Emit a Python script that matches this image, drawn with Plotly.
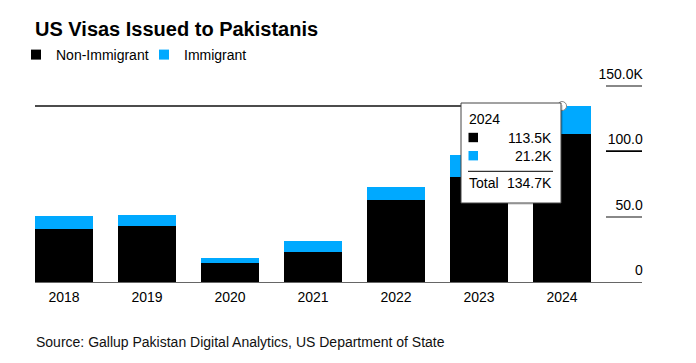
import plotly.graph_objects as go

years = ["2018", "2019", "2020", "2021", "2022", "2023", "2024"]
non_immigrant = [40.3, 42.6, 14.5, 23.0, 62.5, 80.3, 113.5]
immigrant = [10.5, 9.0, 3.9, 8.7, 10.5, 16.9, 21.2]
y_tickvals = [0, 50, 100, 150]
y_ticktext = ["0", "50.0", "100.0", "150.0K"]

BLACK = "#000000"
BLUE = "#00A9FF"
FONT = "Liberation Sans, Arial, Helvetica, sans-serif"

W, H = 696, 363
L, R, T, B = 35, 54, 85, 81
PW, PH = W - L - R, H - T - B


def px2x(px):
    return (px - L) / PW


def py2y(py):
    return (H - B - py) / PH


fig = go.Figure()
fig.add_trace(go.Bar(x=years, y=non_immigrant, name="Non-Immigrant",
                     marker=dict(color=BLACK, line=dict(width=0)), showlegend=False))
fig.add_trace(go.Bar(x=years, y=immigrant, name="Immigrant",
                     marker=dict(color=BLUE, line=dict(width=0)), showlegend=False))
# legend proxies
fig.add_trace(go.Scatter(x=[None], y=[None], mode="markers", name="Non-Immigrant",
                         marker=dict(symbol="square", size=10, color=BLACK)))
fig.add_trace(go.Scatter(x=[None], y=[None], mode="markers", name="Immigrant",
                         marker=dict(symbol="square", size=10, color=BLUE)))

last = len(years) - 1
total_last = round(non_immigrant[last] + immigrant[last], 1)

# hover point marker
fig.add_trace(go.Scatter(x=[years[last]], y=[total_last], mode="markers", showlegend=False,
                         marker=dict(size=9, color="white", line=dict(color="#888", width=1)),
                         hoverinfo="skip", cliponaxis=False))

shapes = []
# crosshair line
shapes.append(dict(type="line", xref="x", yref="y", x0=-0.35, x1=last, y0=total_last, y1=total_last,
                   line=dict(color="#111", width=1.5), layer="below"))
# dark tick at 100
shapes.append(dict(type="line", xref="paper", yref="y", x0=px2x(606), x1=1, y0=100, y1=100,
                   line=dict(color="#000", width=1.5)))
# tooltip box
shapes.append(dict(type="rect", xref="paper", yref="paper", x0=px2x(463), x1=px2x(563),
                   y0=py2y(205), y1=py2y(105), fillcolor="rgba(0,0,0,0.12)", line=dict(width=0)))
shapes.append(dict(type="rect", xref="paper", yref="paper", x0=px2x(461), x1=px2x(561),
                   y0=py2y(203), y1=py2y(103), fillcolor="white", line=dict(color="#444", width=1)))
# color squares
for cy, col in [(137.5, BLACK), (155.7, BLUE)]:
    shapes.append(dict(type="rect", xref="paper", yref="paper", x0=px2x(468.5), x1=px2x(478),
                       y0=py2y(cy + 4.7), y1=py2y(cy - 4.7), fillcolor=col, line=dict(width=0)))
# divider
shapes.append(dict(type="line", xref="paper", yref="paper", x0=px2x(468), x1=px2x(553),
                   y0=py2y(171.3), y1=py2y(171.3), line=dict(color="#000", width=1)))

annotations = []
tf = dict(family=FONT, size=14, color="#000")
annotations.append(dict(text=years[last], xref="paper", yref="paper", x=px2x(467), y=py2y(118.5),
                        xanchor="left", yanchor="middle", showarrow=False, font=tf))
annotations.append(dict(text=f"{non_immigrant[last]:.1f}K", xref="paper", yref="paper", x=px2x(554),
                        y=py2y(137.5), xanchor="right", yanchor="middle", showarrow=False, font=tf))
annotations.append(dict(text=f"{immigrant[last]:.1f}K", xref="paper", yref="paper", x=px2x(554),
                        y=py2y(155.7), xanchor="right", yanchor="middle", showarrow=False, font=tf))
annotations.append(dict(text="Total", xref="paper", yref="paper", x=px2x(467), y=py2y(182.7),
                        xanchor="left", yanchor="middle", showarrow=False, font=tf))
annotations.append(dict(text=f"{total_last:.1f}K", xref="paper", yref="paper", x=px2x(554),
                        y=py2y(182.7), xanchor="right", yanchor="middle", showarrow=False, font=tf))
# source
annotations.append(dict(text="Source: Gallup Pakistan Digital Analytics, US Department of State",
                        xref="paper", yref="paper", x=px2x(34), y=py2y(341.5), xanchor="left",
                        yanchor="middle", showarrow=False, font=dict(family=FONT, size=14, color="#111")))

fig.update_layout(
    width=W, height=H,
    margin=dict(l=L, r=R, t=T, b=B, pad=0),
    paper_bgcolor="white", plot_bgcolor="white",
    barmode="stack", bargap=0.3,
    font=dict(family=FONT, size=14, color="#000"),
    title=dict(text="<b>US Visas Issued to Pakistanis</b>", x=35 / W, xanchor="left",
               y=1 - 28.5 / H, yanchor="middle", font=dict(family=FONT, size=20, color="#000")),
    legend=dict(orientation="h", x=px2x(16), y=py2y(39), xanchor="left", yanchor="top",
                font=dict(family=FONT, size=14, color="#000"), bgcolor="rgba(0,0,0,0)",
                itemclick=False, traceorder="normal", entrywidth=83, entrywidthmode="pixels"),
    xaxis=dict(type="category", range=[-0.35, -0.35 + PW / 83.0], showgrid=False, zeroline=False,
               showline=True, linecolor="#666", linewidth=1, ticks="", ticklabelstandoff=2,
               tickfont=dict(family=FONT, size=14, color="#000"), fixedrange=True),
    yaxis=dict(side="right", range=[0, 150.8], tickvals=y_tickvals, ticktext=y_ticktext,
               showgrid=False, zeroline=False, showline=False, ticks="inside", ticklen=36,
               tickcolor="#888", tickwidth=1.5, ticklabelposition="inside",
               ticklabeloverflow="allow", ticklabelshift=-12, ticklabelstandoff=-37,
               tickfont=dict(family=FONT, size=14, color="#000"), fixedrange=True),
    shapes=shapes,
    annotations=annotations,
    showlegend=True,
)

fig.write_html("out.html", config={"displayModeBar": False},
               post_script="document.body.style.margin='0';")
